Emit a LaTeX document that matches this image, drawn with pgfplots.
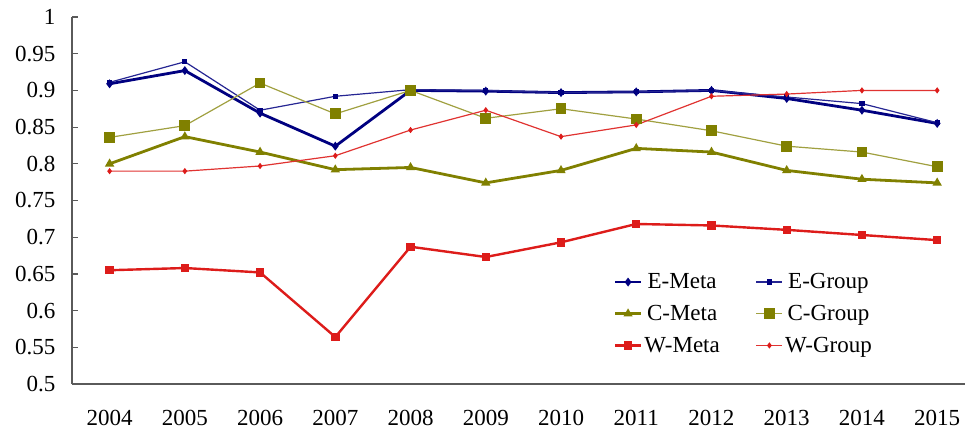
\documentclass[border=0pt]{standalone}
\usepackage{pgfplots}
\pgfplotsset{compat=1.18}
\usepackage{fontspec}
\setmainfont{Liberation Serif}
\newcommand\f{\fontsize{23bp}{27bp}\selectfont}
\definecolor{enavy}{RGB}{0,0,128}
\definecolor{colive}{RGB}{128,128,0}
\definecolor{wred}{RGB}{221,28,26}
\definecolor{axgray}{RGB}{90,90,90}
\pgfplotstableread{
x EM EG CM CG WM WG
0 0.909 0.911 0.800 0.836 0.655 0.790
1 0.927 0.939 0.837 0.852 0.658 0.790
2 0.869 0.873 0.816 0.910 0.652 0.797
3 0.824 0.892 0.792 0.868 0.564 0.811
4 0.900 0.901 0.795 0.900 0.687 0.846
5 0.899 0.900 0.774 0.862 0.673 0.873
6 0.897 0.897 0.791 0.875 0.693 0.837
7 0.898 0.898 0.821 0.861 0.718 0.853
8 0.900 0.900 0.816 0.845 0.716 0.892
9 0.889 0.891 0.791 0.824 0.710 0.895
10 0.873 0.882 0.779 0.816 0.703 0.900
11 0.855 0.856 0.774 0.796 0.696 0.900
}\data
\begin{document}
\begin{tikzpicture}
\path[use as bounding box] (-72bp,-49bp) rectangle (893bp,384bp);
\begin{axis}[
  at={(0,0)}, anchor=south west,
  scale only axis, width=893bp, height=367bp,
  xmin=-0.5, xmax=11.37, ymin=0.5, ymax=1,
  axis x line*=bottom, axis y line*=left,
  axis line style={axgray, line width=1.4bp, -},
  tick align=inside,
  tick style={axgray, line width=1.2bp},
  xtick={0,...,11},
  xticklabels={2004,2005,2006,2007,2008,2009,2010,2011,2012,2013,2014,2015},
  x tick style={draw=none},
  extra x ticks={0.5,1.5,...,10.5},
  extra x tick labels={},
  extra x tick style={tick style={axgray, line width=1.2bp}, major tick length=7bp},
  ytick={0.5,0.55,...,1.01},
  major tick length=6bp,
  /pgf/number format/assume math mode=true,
  yticklabel style={/pgf/number format/fixed, /pgf/number format/precision=2, font=\f, xshift=-13bp},
  xticklabel style={font=\f, yshift=-23bp},
  legend style={draw=none, fill=none, font=\f, at={(rel axis cs:0.603,0.312)}, anchor=north west,
    /tikz/every even column/.append style={column sep=34bp}, row sep=11bp},
  legend columns=2,
  legend image code/.code={\draw[mark repeat=2,mark phase=2] plot coordinates {(0bp,0bp) (13bp,0bp) (26bp,0bp)};},
  clip=false,
]
\addplot[enavy, line width=2.8bp, mark=diamond*, mark size=2.2bp] table[x=x,y=EM]{\data};
\addlegendentry{E-Meta}
\addplot[enavy!85!white, line width=1.2bp, mark=square*, mark size=2bp, mark options={enavy}] table[x=x,y=EG]{\data};
\addlegendentry{E-Group}
\addplot[colive, line width=2.8bp, mark=triangle*, mark size=2.6bp] table[x=x,y=CM]{\data};
\addlegendentry{C-Meta}
\addplot[colive!75!white, line width=1.2bp, mark=square*, mark size=4.8bp, mark options={colive}] table[x=x,y=CG]{\data};
\addlegendentry{C-Group}
\addplot[wred, line width=2.4bp, mark=square*, mark size=3bp] table[x=x,y=WM]{\data};
\addlegendentry{W-Meta}
\addplot[wred!90!white, line width=1.2bp, mark=diamond*, mark size=2.2bp, mark options={wred}] table[x=x,y=WG]{\data};
\addlegendentry{W-Group}
\end{axis}
\end{tikzpicture}
\end{document}
